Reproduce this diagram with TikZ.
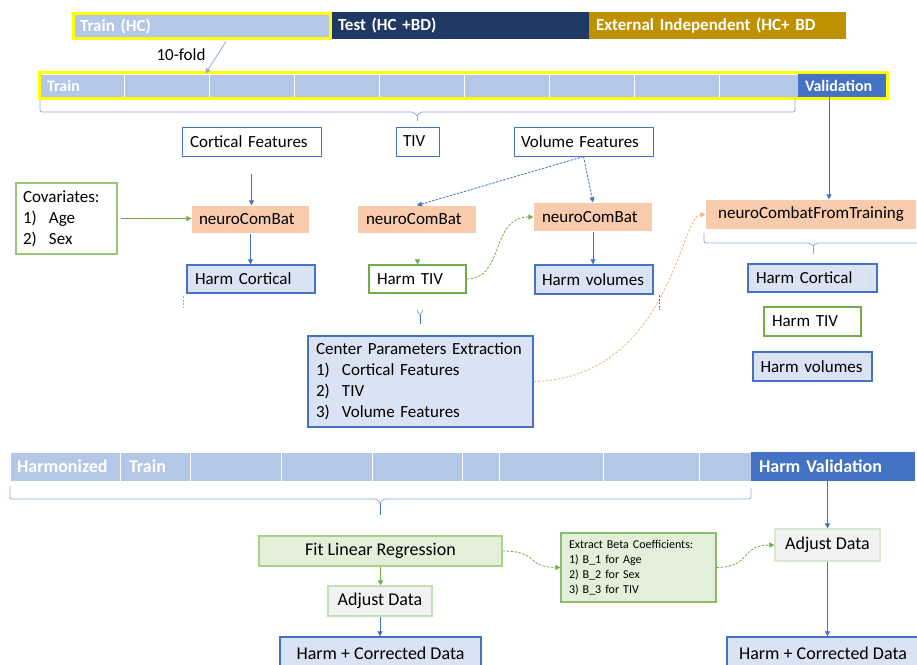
\documentclass[tikz,border=0pt]{standalone}
\usepackage{fontspec}
\setmainfont{Carlito}
\usetikzlibrary{arrows.meta}

\definecolor{barblue}{HTML}{B4C7E7}
\definecolor{navy}{HTML}{203864}
\definecolor{gold}{HTML}{BF9000}
\definecolor{accent}{HTML}{4472C4}
\definecolor{peach}{HTML}{F8CBAD}
\definecolor{paleblue}{HTML}{DAE3F3}
\definecolor{leaf}{HTML}{70AD47}
\definecolor{paleleaf}{HTML}{E2F0D9}
\definecolor{softleaf}{HTML}{A9D18E}
\definecolor{mintline}{HTML}{C5E0B4}
\definecolor{lightgray}{HTML}{F2F2F2}
\definecolor{softblue}{HTML}{8FAADC}
\definecolor{apricot}{HTML}{F4B183}
\definecolor{hiyellow}{HTML}{FFFF00}

\newcommand{\fsz}[2]{\fontsize{#1}{#2}\selectfont}
\newcommand{\itm}[1]{\makebox[26pt][l]{#1}}

\begin{document}
\begin{tikzpicture}[x=1pt,y=-1pt,
  bar/.style={inner ysep=0pt, font=\bfseries\fsz{17}{20}, text=white, align=left},
  cell/.style={fill=barblue, draw=white, line width=1pt, inner sep=0pt},
  box/.style={inner ysep=0pt, font=\fsz{17}{21}, align=left, line width=1.2pt},
  big/.style={font=\fsz{18}{22}},
  tip/.style={-{Triangle[length=5pt,width=5pt]}},
  arr/.style={draw=accent, line width=0.8pt, tip},
  garr/.style={draw=leaf, line width=0.8pt, tip},
  gdash/.style={garr, dash pattern=on 2.5pt off 1.5pt},
  bdash/.style={arr, dash pattern=on 2.5pt off 1.2pt},
  odash/.style={draw=apricot, line width=0.8pt, tip, dash pattern=on 2.5pt off 1.5pt},
  brace/.style={draw=softblue, line width=0.8pt, rounded corners=2pt},
]
\useasboundingbox (0,0) rectangle (917,664);

% ---------- data split bar ----------
\node[bar, fill=barblue, draw=hiyellow, line width=3pt, minimum width=257pt, minimum height=25pt,
      inner xsep=6.5pt, text width=244pt] (trainhc) at (202,26) {Train (HC)};
\node[bar, fill=navy, minimum width=257pt, minimum height=27pt, inner xsep=6pt, text width=245pt]
      (test) at (460.5,25.5) {Test (HC +BD)};
\node[bar, fill=gold, minimum width=257pt, minimum height=27pt, inner xsep=7pt, text width=243pt]
      (ext) at (717.5,25.5) {External Independent (HC+ BD};

% ---------- 10-fold bar ----------
\node[cell, bar, font=\bfseries\fsz{16}{19}, minimum width=84pt, minimum height=23pt,
      inner xsep=7pt, text width=70pt] (c1) at (82,85.5) {Train};
\foreach \a/\b [count=\i from 2] in {124/209,209/294,294/379,379/464,464/549,549/634,634/719,719/798}
  \node[cell, minimum width={\b-\a}, minimum height=23pt] (c\i) at ({(\a+\b)/2},85.5) {};
\node[bar, fill=accent, font=\bfseries\fsz{16}{19}, minimum width=88pt, minimum height=23pt,
      inner xsep=7pt, text width=74pt] (val) at (842,85.5) {Validation};
\node[draw=hiyellow, line width=3pt, minimum width=848pt, minimum height=26pt, inner sep=0pt]
      (fold) at (463.5,85) {};

\node[font=\fsz{17}{20}] (tenfold) at (181,55) {10-fold};
\draw[draw=softblue, line width=0.8pt, tip] (trainhc.south) ++(24,1.5) -- ([xshift=-4pt]c2.north east);

% brace under the training folds
\draw[brace] (40,100) -- (40,112) -- (414,112) -- (417,116);
\draw[brace] (795,98) -- (795,112) -- (420,112) -- (417,116);
\draw[draw=softblue, line width=0.8pt] (417,116) -- (417,121);

% ---------- feature harmonisation ----------
\node[box, draw=accent, fill=white, line width=1pt, minimum width=139pt, minimum height=29pt,
      inner xsep=8pt, text width=123pt] (cf) at (251.5,141.5) {Cortical Features};
\node[box, draw=accent, fill=white, line width=1pt, minimum width=43pt, minimum height=29pt,
      inner xsep=7pt, text width=29pt] (tiv) at (417.5,141.5) {TIV};
\node[box, draw=accent, fill=white, line width=1pt, minimum width=139pt, minimum height=29pt,
      inner xsep=7pt, text width=125pt] (vf) at (583.5,141.5) {Volume Features};

\node[box, draw=softleaf!70!leaf, fill=white, minimum width=101pt, minimum height=71pt,
      inner xsep=7pt, text width=87pt] (cov) at (66.5,218.5)
      {Covariates:\\\itm{1)}Age\\\itm{2)}Sex};

\node[box, fill=peach, minimum width=117pt, minimum height=27pt, inner xsep=7pt, text width=103pt]
      (nc1) at (250.5,219.5) {neuroComBat};
\node[box, fill=peach, minimum width=118pt, minimum height=27pt, inner xsep=8pt, text width=102pt]
      (nc2) at (417,219.5) {neuroComBat};
\node[box, fill=peach, minimum width=118pt, minimum height=28pt, inner xsep=8pt, text width=102pt]
      (nc3) at (593,217) {neuroComBat};
\node[box, fill=peach, align=center, minimum width=210pt, minimum height=29pt, inner xsep=0pt]
      (ncft) at (811,214.5) {neuroCombatFromTraining};

\node[box, draw=accent, fill=paleblue, line width=1.4pt, minimum width=128pt, minimum height=28pt,
      inner xsep=8pt, text width=112pt] (hc1) at (251,279) {Harm Cortical};
\node[box, draw=leaf, fill=white, minimum width=97pt, minimum height=28pt,
      inner xsep=8pt, text width=81pt] (htiv) at (417.5,279) {Harm TIV};
\node[box, draw=accent, fill=paleblue, line width=1.4pt, minimum width=118pt, minimum height=29pt,
      inner xsep=7pt, text width=104pt] (hv) at (594,279.5) {Harm volumes};

\node[box, draw=accent, fill=paleblue, line width=1.4pt, minimum width=225pt, minimum height=91pt,
      inner xsep=8pt, text width=209pt] (cpe) at (420.5,381.5)
      {Center Parameters Extraction\\\itm{1)}Cortical Features\\\itm{2)}TIV\\\itm{3)}Volume Features};

\node[box, draw=accent, fill=paleblue, line width=1.4pt, minimum width=129pt, minimum height=28pt,
      inner xsep=8pt, text width=113pt] (hc2) at (812.5,278) {Harm Cortical};
\node[box, draw=leaf, fill=white, minimum width=97pt, minimum height=29pt,
      inner xsep=8pt, text width=81pt] (htiv2) at (812.5,321.5) {Harm TIV};
\node[box, draw=accent, fill=paleblue, line width=1.4pt, minimum width=119pt, minimum height=29pt,
      inner xsep=7.5pt, text width=104pt] (hv2) at (812.5,366.5) {Harm volumes};

% connectors of the harmonisation step
\draw[arr] (cf.south) ++(0,17) -- (cf.south |- nc1.north);
\draw[garr] (cov.east) ++(3,0) -- (cov.east -| nc1.west);
\draw[arr] (nc1.south) -- (nc1.south |- hc1.north);
\draw[bdash] (vf.south) -- (nc2.north);
\draw[bdash] (vf.south) -- (nc3.north);
\draw[garr] (htiv.north) ++(0,-4) -- (htiv.north);
\draw[gdash] (htiv.east) .. controls (505,279) and (490,217) .. (nc3.west);
\draw[arr] (nc3.south) -- (nc3.south |- hv.north);
\draw[arr] (val.south) ++(-13,0) -- ([xshift=-13pt]val.south |- ncft.north);
\draw[odash] (cpe.east) .. controls (670,378) and (680,216) .. (ncft.west);

% brace under neuroCombatFromTraining
\draw[brace] (704,233) -- (704,243) -- (810,243) -- (813,246);
\draw[brace] (917,243) -- (816,243) -- (813,246);
\draw[draw=softblue, line width=0.8pt] (813,246) -- (813,254);

% brace ends around the harmonised blocks
\draw[draw=softblue, line width=0.8pt, dash pattern=on 2pt off 1.5pt] (183,296) -- (183,308);
\draw[draw=accent, line width=0.8pt, dash pattern=on 2pt off 1.5pt] (659,295) -- (659,310);
\draw[draw=softblue, line width=0.8pt] (417,310) -- (420,315) -- (423,310);
\draw[draw=accent, line width=0.8pt] (420,315) -- (420,324);

% ---------- harmonised bar ----------
\node[cell, bar, font=\bfseries\fsz{18}{21}, minimum width=110pt, minimum height=29pt,
      inner xsep=7pt, text width=96pt] (h1) at (65,466.5) {Harmonized};
\node[cell, bar, font=\bfseries\fsz{18}{21}, minimum width=70pt, minimum height=29pt,
      inner xsep=9pt, text width=52pt] (h2) at (155,466.5) {Train};
\foreach \a/\b [count=\i from 3] in {190/281,281/372,372/462,462/499,499/603,603/699,699/751}
  \node[cell, minimum width={\b-\a}, minimum height=29pt] (h\i) at ({(\a+\b)/2},466.5) {};
\node[bar, fill=accent, font=\bfseries\fsz{18}{21}, minimum width=164pt, minimum height=29pt,
      inner xsep=8pt, text width=148pt] (hval) at (833,466.5) {Harm Validation};

\draw[brace] (10,486) -- (10,499) -- (377,499) -- (380,503);
\draw[brace] (751,488) -- (751,499) -- (383,499) -- (380,503);
\draw[draw=accent, line width=0.8pt] (380,503) -- (380,515);

% ---------- regression on covariates ----------
\node[box, big, align=center, draw=softleaf, fill=paleleaf, minimum width=243pt, minimum height=30pt]
      (fit) at (380.5,551) {Fit Linear Regression};
\node[box, big, align=center, draw=mintline, fill=lightgray, minimum width=104pt, minimum height=30pt]
      (adj1) at (380,601) {Adjust Data};
\node[box, big, align=center, draw=accent, fill=paleblue, line width=1.4pt, minimum width=201pt,
      minimum height=33pt] (hcd1) at (380.5,653.5) {Harm + Corrected Data};

\node[box, font=\fsz{12}{15}, draw=leaf!80, fill=paleleaf, minimum width=155pt, minimum height=69pt,
      inner xsep=8pt, text width=139pt] (eb) at (638.5,567.5)
      {Extract Beta Coefficients:\\1) B\_1 for Age\\2) B\_2 for Sex\\3) B\_3 for TIV};

\node[box, big, align=center, draw=mintline!60!lightgray, fill=lightgray, minimum width=105pt,
      minimum height=32pt] (adj2) at (827.5,545) {Adjust Data};
\node[box, big, align=center, draw=accent, fill=paleblue, line width=1.4pt, minimum width=192pt,
      minimum height=33pt] (hcd2) at (823,653.5) {Harm + Corrected Data};

\draw[garr] (fit.south) -- (fit.south |- adj1.north);
\draw[arr] (adj1.south) -- (adj1.south |- hcd1.north);
\draw[gdash] (fit.east) .. controls (540,551) and (525,567) .. (eb.west);
\draw[gdash] (eb.east) .. controls (752,567) and (740,545) .. (adj2.west);
\draw[arr] (adj2.north |- hval.south) -- (adj2.north);
\draw[arr] (adj2.south) -- (adj2.south |- hcd2.north);

\end{tikzpicture}
\end{document}
